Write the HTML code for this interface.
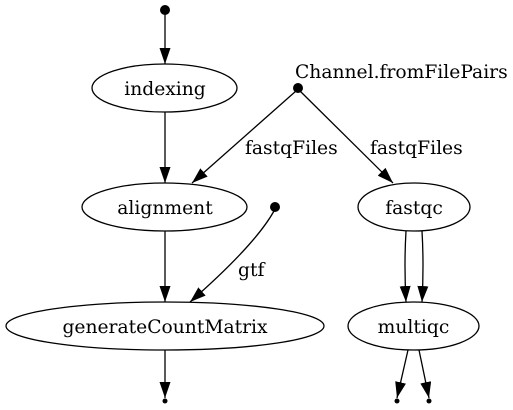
<!DOCTYPE html>
<html><head><style>html,body{margin:0;padding:0;background:#fff;}svg{display:block}text{font-family:"DejaVu Serif","Liberation Serif",serif;font-size:18.7px}</style></head>
<body>
<svg width="513" height="410" viewBox="0 0 513 410" xmlns="http://www.w3.org/2000/svg">
<defs><marker id="b" markerWidth="16" markerHeight="11" refX="16" refY="5.5" orient="auto" markerUnits="userSpaceOnUse" viewBox="0 0 16 11"><path d="M0,0 L16,5.5 L0,11 z" fill="#000"/></marker></defs>
<g fill="none" stroke="#000" stroke-width="1.3">
<ellipse cx="164.5" cy="88" rx="72.5" ry="24"/>
<ellipse cx="164.5" cy="207" rx="82.5" ry="24"/>
<ellipse cx="165" cy="326" rx="159" ry="24"/>
<ellipse cx="414" cy="207" rx="56" ry="24"/>
<ellipse cx="413.5" cy="326" rx="65.5" ry="24"/>
<line x1="165" y1="14" x2="165" y2="64" marker-end="url(#b)"/>
<line x1="165" y1="112" x2="165" y2="183" marker-end="url(#b)"/>
<line x1="165" y1="231" x2="165" y2="302" marker-end="url(#b)"/>
<line x1="165" y1="350" x2="165" y2="398" marker-end="url(#b)"/>
<line x1="296" y1="91" x2="192" y2="183" marker-end="url(#b)"/>
<line x1="300" y1="91" x2="393" y2="183" marker-end="url(#b)"/>
<path d="M274,211 Q255,245 190,302" marker-end="url(#b)"/>
<path d="M406,231 Q404,265 406,302" marker-end="url(#b)"/>
<path d="M422,231 Q424,265 422,302" marker-end="url(#b)"/>
<line x1="408" y1="350" x2="397" y2="398" marker-end="url(#b)"/>
<line x1="419" y1="350" x2="429" y2="398" marker-end="url(#b)"/>
</g>
<g fill="#000">
<circle cx="165" cy="10" r="5"/>
<circle cx="298" cy="88" r="5"/>
<circle cx="275" cy="207" r="5"/>
<circle cx="165" cy="401" r="2.5"/>
<circle cx="397" cy="401" r="2.5"/>
<circle cx="429" cy="401" r="2.5"/>
</g>
<g text-anchor="middle" fill="#000">
<text x="165" y="95">indexing</text>
<text x="165" y="214">alignment</text>
<text x="165" y="333">generateCountMatrix</text>
<text x="414" y="214">fastqc</text>
<text x="413.5" y="333">multiqc</text>
</g>
<g fill="#000">
<text x="295" y="78">Channel.fromFilePairs</text>
<text x="245" y="154">fastqFiles</text>
<text x="370" y="154">fastqFiles</text>
<text x="238" y="276">gtf</text>
</g>
</svg>
</body></html>
